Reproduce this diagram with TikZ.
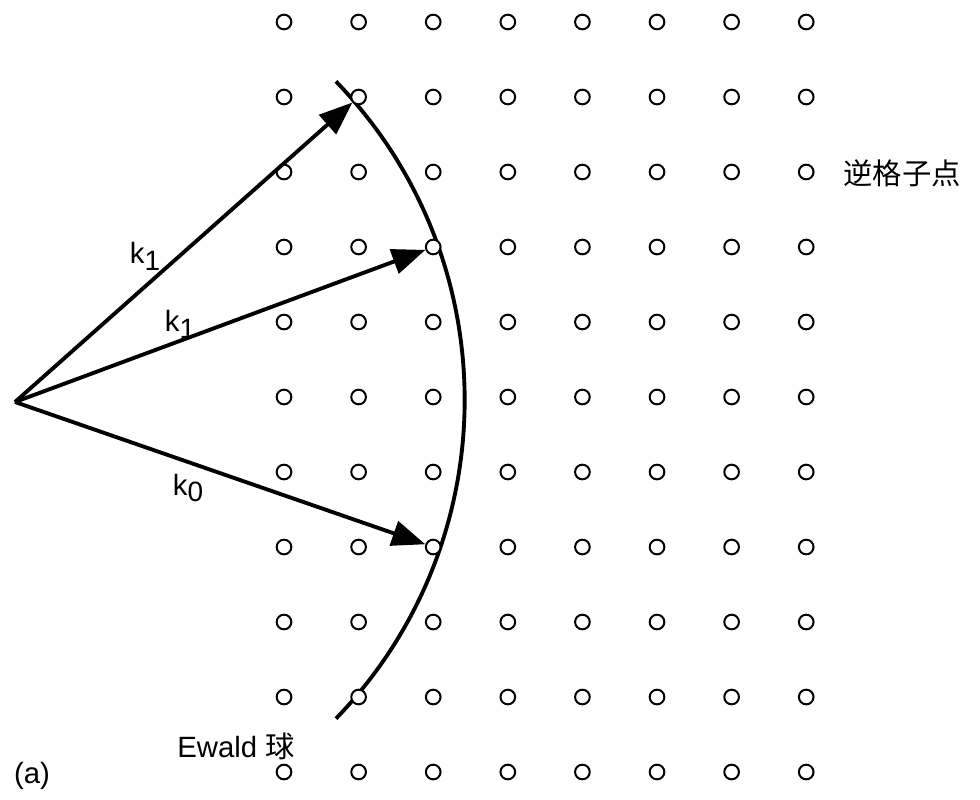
\documentclass[tikz,border=0pt]{standalone}
\usepackage{fontspec}
\setmainfont{Liberation Sans}
\newfontfamily\cjk{Noto Sans CJK SC}
\usetikzlibrary{arrows.meta}
\newcommand{\kvec}[1]{k\raisebox{-0.45ex}{\fontsize{21}{21}\selectfont #1}}

\begin{document}
\begin{tikzpicture}[
  x=0.75pt, y=-0.75pt,
  >={Triangle[length=25pt,width=19pt]},
  lattice/.style={circle, draw, line width=1.5pt, fill=white, minimum size=11pt, inner sep=0pt},
  vec/.style={->, line width=2.9pt},
  sphere/.style={line width=2.9pt},
  lbl/.style={font=\fontsize{22}{26}\selectfont, inner sep=0pt}
]
  \useasboundingbox (0,0) rectangle (980,799);

  % Ewald sphere centre and origin of the wave vectors
  \coordinate (ewald) at (6,400);
  \coordinate (O) at (15,402);

  % the Ewald sphere (drawn below the lattice points)
  \draw[sphere] ([shift={(44:344pt)}]ewald) arc[start angle=44, end angle=-44, radius=344pt];

  % reciprocal lattice points
  \foreach \i in {0,...,7}
    \foreach \j in {0,...,10}
      \node[lattice] (p-\i-\j) at ({284+74.6*\i},{22+75*\j}) {};

  % wave vectors
  \draw[vec] (O) -- (p-1-1);
  \draw[vec] (O) -- (p-2-3);
  \draw[vec] (O) -- (p-2-7);

  % labels
  \node[lbl] (k1a) at (145,256) {\kvec{1}};
  \node[lbl] (k1b) at (180,324) {\kvec{1}};
  \node[lbl] (k0) at (188,488) {\kvec{0}};
  \node[lbl] (lat) at (902,173) {\cjk 逆格子点};
  \node[lbl] (ew) at (236,746) {Ewald \cjk 球};
  \node[lbl] (a) at (32,776) {(a)};
\end{tikzpicture}
\end{document}
